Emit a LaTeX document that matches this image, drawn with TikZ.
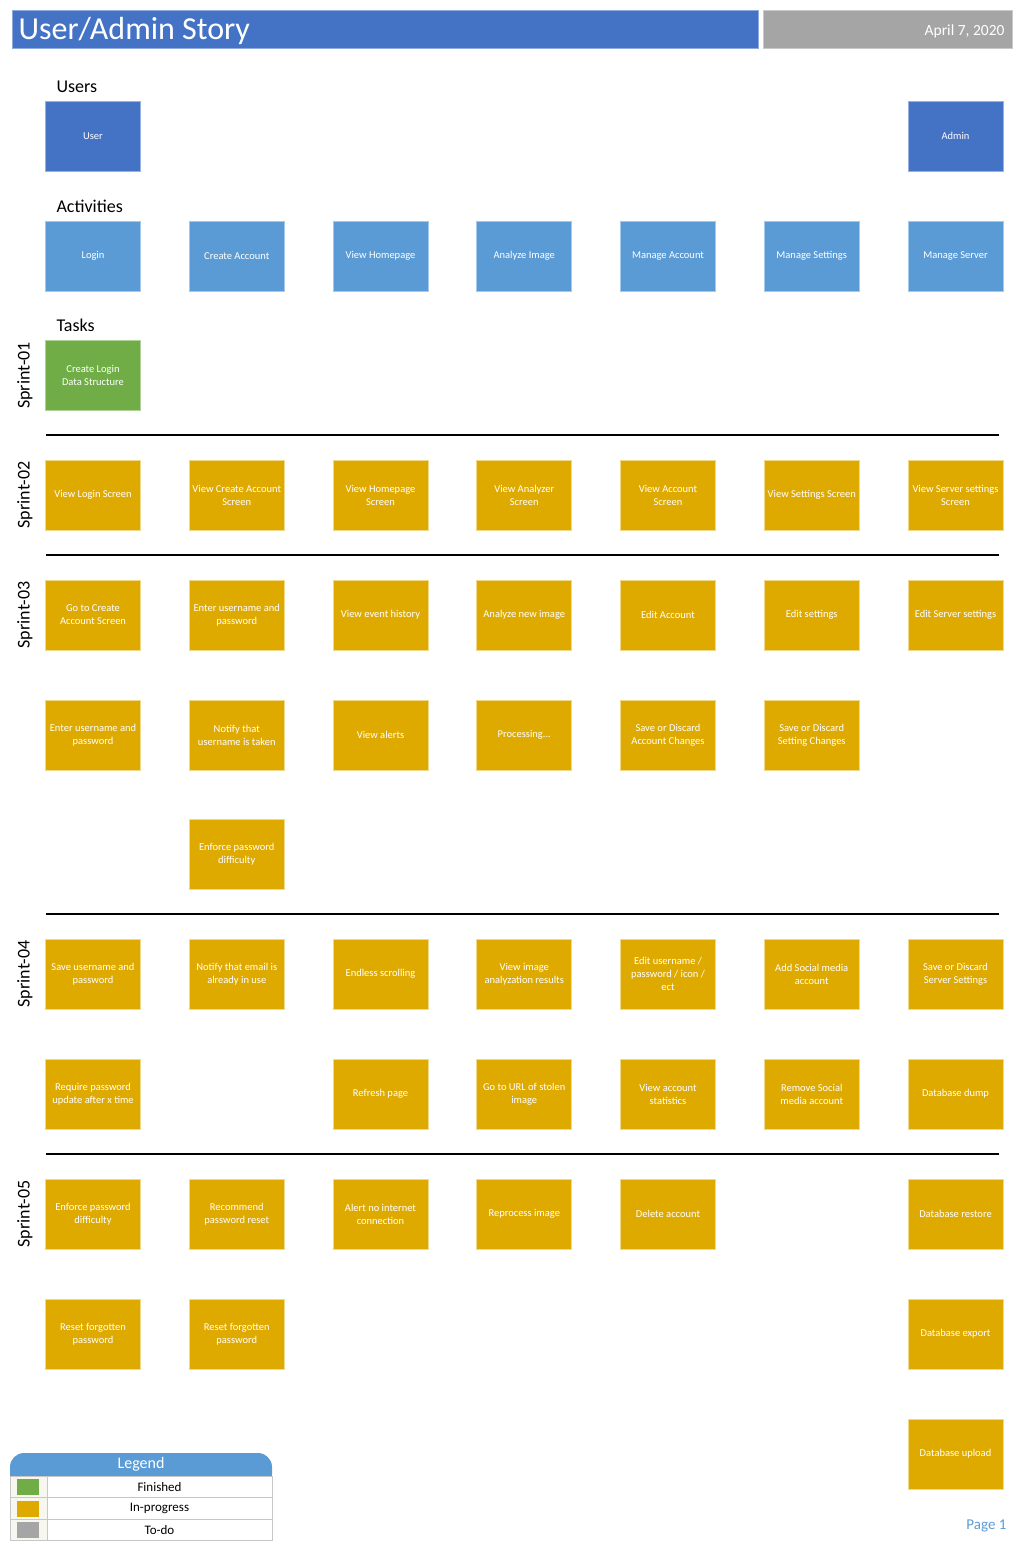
\documentclass[tikz,border=0pt]{standalone}
\usepackage{fontspec}
\setmainfont{Carlito}
\usetikzlibrary{positioning}

\definecolor{titleblue}{HTML}{4472C4}
\definecolor{dategray}{HTML}{A5A5A5}
\definecolor{actblue}{HTML}{5B9BD5}
\definecolor{doneg}{HTML}{70AD47}
\definecolor{progold}{HTML}{DFAA00}
\definecolor{ivory}{HTML}{F7F7EF}
\newcommand{\cardfont}{\fontsize{10.5}{13}\selectfont}

\begin{document}
\begin{tikzpicture}[x=1pt, y=-1pt,
  card/.style={minimum width=95pt, minimum height=70pt, inner sep=1pt,
               align=center, text=white, font=\cardfont, line width=0.7pt},
  role/.style={card, fill=titleblue, draw=titleblue!55!white},
  activity/.style={card, fill=actblue, draw=actblue!55!white},
  finished/.style={card, fill=doneg, draw=doneg!55!white},
  inprog/.style={card, fill=progold, draw=progold!45!white},
  heading/.style={anchor=base west, font=\fontsize{18}{20}\selectfont},
  sprint/.style={rotate=90, font=\fontsize{18}{20}\selectfont},
  divider/.style={line width=1.4pt},
  legcell/.style={draw=black!22, line width=0.8pt, minimum height=21.5pt,
                  inner sep=0pt, font=\fontsize{13}{15}\selectfont},
]
  \useasboundingbox (0,0) rectangle (1019,1545);

  % title bar
  \fill[titleblue, draw=titleblue!60!white] (12,10) rectangle (758,48);
  \fill[dategray, draw=dategray!60!white] (763,10) rectangle (1012,48);
  \node[anchor=base west, text=white, font=\fontsize{32}{34}\selectfont]
    (title) at (15,39) {User/Admin Story};
  \node[anchor=base east, text=white, font=\fontsize{15.5}{17}\selectfont]
    (date) at (1008,35) {April 7, 2020};

  % users and activities
  \node[heading] (users) at (53,92) {Users};
  \node[role] (user)  at (93,136)    {User};
  \node[role] (admin) at (955.5,136) {Admin};

  \node[heading] (activities) at (53,212) {Activities};
  \node[activity] (login)    at (93,256)     {Login};
  \node[activity] (create)   at (236.75,256) {Create Account};
  \node[activity] (home)     at (380.5,256)  {View Homepage};
  \node[activity] (analyze)  at (524.25,256) {Analyze Image};
  \node[activity] (account)  at (668,256)    {Manage Account};
  \node[activity] (settings) at (811.75,256) {Manage Settings};
  \node[activity] (server)   at (955.5,256)  {Manage Server};

  % sprint 01
  \node[heading] (tasks) at (53,331) {Tasks};
  \node[sprint] (sprintA) at (25,375.5) {Sprint-01};
  \node[finished] (loginData) at (93,375.5) {Create Login\\Data Structure};
  \draw[divider] (46,435) -- (999,435);

  % sprint 02
  \node[sprint] (sprintB) at (25,495) {Sprint-02};
  \node[inprog] (loginScreen)    at (93,495)     {View Login Screen};
  \node[inprog] (createScreen)   at (236.75,495) {View Create Account\\Screen};
  \node[inprog] (homeScreen)     at (380.5,495)  {View Homepage\\Screen};
  \node[inprog] (analyzeScreen)  at (524.25,495) {View Analyzer\\Screen};
  \node[inprog] (accountScreen)  at (668,495)    {View Account\\Screen};
  \node[inprog] (settingsScreen) at (811.75,495) {View Settings Screen};
  \node[inprog] (serverScreen)   at (955.5,495)  {View Server settings\\Screen};
  \draw[divider] (46,555) -- (999,555);

  % sprint 03
  \node[sprint] (sprintC) at (25,615) {Sprint-03};
  \node[inprog] (gotoCreate)    at (93,615)     {Go to Create\\Account Screen};
  \node[inprog] (enterCreate)   at (236.75,615) {Enter username and\\password};
  \node[inprog] (eventHistory)  at (380.5,615)  {View event history};
  \node[inprog] (newImage)      at (524.25,615) {Analyze new image};
  \node[inprog] (editAccount)   at (668,615)    {Edit Account};
  \node[inprog] (editSettings)  at (811.75,615) {Edit settings};
  \node[inprog] (editServer)    at (955.5,615)  {Edit Server settings};

  \node[inprog] (enterLogin)    at (93,735)     {Enter username and\\password};
  \node[inprog] (nameTaken)     at (236.75,735) {Notify that\\username is taken};
  \node[inprog] (viewAlerts)    at (380.5,735)  {View alerts};
  \node[inprog] (processing)    at (524.25,735) {Processing...};
  \node[inprog] (saveAccount)   at (668,735)    {Save or Discard\\Account Changes};
  \node[inprog] (saveSettings)  at (811.75,735) {Save or Discard\\Setting Changes};

  \node[inprog] (pwDifficulty)  at (236.75,854.5) {Enforce password\\difficulty};
  \draw[divider] (46,914) -- (999,914);

  % sprint 04
  \node[sprint] (sprintD) at (25,974) {Sprint-04};
  \node[inprog] (saveLogin)     at (93,974)     {Save username and\\password};
  \node[inprog] (emailUsed)     at (236.75,974) {Notify that email is\\already in use};
  \node[inprog] (endless)       at (380.5,974)  {Endless scrolling};
  \node[inprog] (results)       at (524.25,974) {View image\\analyzation results};
  \node[inprog] (editProfile)   at (668,974)    {Edit username /\\password / icon /\\ect};
  \node[inprog] (addSocial)     at (811.75,974) {Add Social media\\account};
  \node[inprog] (saveServer)    at (955.5,974)  {Save or Discard\\Server Settings};

  \node[inprog] (pwExpire)      at (93,1094)     {Require password\\update after x time};
  \node[inprog] (refresh)       at (380.5,1094)  {Refresh page};
  \node[inprog] (stolenUrl)     at (524.25,1094) {Go to URL of stolen\\image};
  \node[inprog] (statistics)    at (668,1094)    {View account\\statistics};
  \node[inprog] (removeSocial)  at (811.75,1094) {Remove Social\\media account};
  \node[inprog] (dbDump)        at (955.5,1094)  {Database dump};
  \draw[divider] (46,1154) -- (999,1154);

  % sprint 05
  \node[sprint] (sprintE) at (25,1214) {Sprint-05};
  \node[inprog] (pwEnforce)     at (93,1214)     {Enforce password\\difficulty};
  \node[inprog] (pwRecommend)   at (236.75,1214) {Recommend\\password reset};
  \node[inprog] (noInternet)    at (380.5,1214)  {Alert no internet\\connection};
  \node[inprog] (reprocess)     at (524.25,1214) {Reprocess image};
  \node[inprog] (deleteAccount) at (668,1214)    {Delete account};
  \node[inprog] (dbRestore)     at (955.5,1214)  {Database restore};

  \node[inprog] (resetA)        at (93,1334)     {Reset forgotten\\password};
  \node[inprog] (resetB)        at (236.75,1334) {Reset forgotten\\password};
  \node[inprog] (dbExport)      at (955.5,1334)  {Database export};

  \node[inprog] (dbUpload)      at (955.5,1454)  {Database upload};

  % legend
  \fill[actblue, rounded corners=14pt] (10,1453) rectangle (272,1488);
  \node[text=white, font=\fontsize{16}{18}\selectfont] (legend) at (141,1464.5) {Legend};
  \node[legcell, fill=ivory, minimum width=37pt] (finKey)  at (28.5,1486.75) {};
  \node[legcell, fill=white, minimum width=225pt] (finText) at (159.5,1486.75) {Finished};
  \node[legcell, fill=ivory, minimum width=37pt] (progKey)  at (28.5,1508.25) {};
  \node[legcell, fill=white, minimum width=225pt] (progText) at (159.5,1508.25) {In-progress};
  \node[legcell, fill=ivory, minimum width=37pt] (todoKey)  at (28.5,1529.75) {};
  \node[legcell, fill=white, minimum width=225pt] (todoText) at (159.5,1529.75) {To-do};
  \fill[doneg]    (17,1479) rectangle (39,1495);
  \fill[progold]  (17,1500.5) rectangle (39,1516.5);
  \fill[dategray] (17,1522) rectangle (39,1538);

  \node[anchor=base east, text=actblue, font=\fontsize{15}{17}\selectfont]
    (page) at (1010,1529) {Page 1};
\end{tikzpicture}
\end{document}
